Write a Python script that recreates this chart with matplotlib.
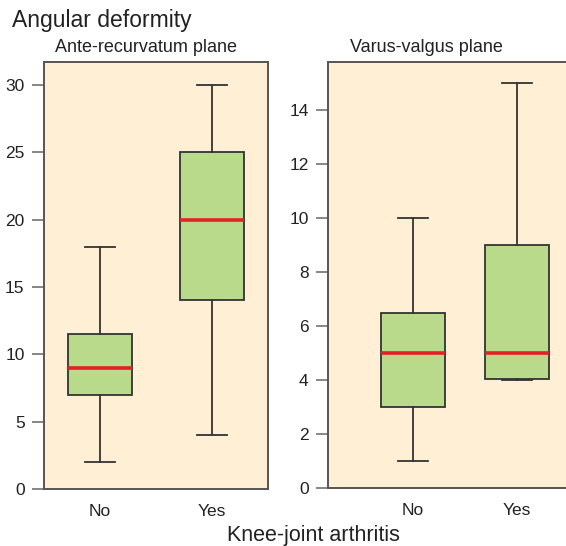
import matplotlib
matplotlib.use("Agg")
import matplotlib.pyplot as plt

plt.rcParams['font.family'] = ['Liberation Sans', 'DejaVu Sans']

categories = ["No", "Yes"]

# ante-recurvatum plane: whislo, q1, med, q3, whishi
ante_lo = [2, 4]
ante_q1 = [7, 14]
ante_med = [9, 20]
ante_q3 = [11.5, 25]
ante_hi = [18, 30]

# varus-valgus plane
varus_lo = [1, 4]
varus_q1 = [3, 4.05]
varus_med = [5, 5]
varus_q3 = [6.5, 9]
varus_hi = [10, 15]

bg = "#FEEFD5"
box_fill = "#B9D98B"
red = "#E42226"
dark = "#333333"


def make_stats(lo, q1, med, q3, hi):
    stats = []
    for i in range(len(lo)):
        stats.append({"whislo": lo[i], "q1": q1[i], "med": med[i],
                      "q3": q3[i], "whishi": hi[i], "fliers": []})
    return stats


def draw_panel(ax, stats, title, title_x, positions, width):
    ax.bxp(stats, positions=positions, widths=width, patch_artist=True,
           showfliers=False,
           boxprops=dict(facecolor=box_fill, edgecolor=dark, linewidth=1.3),
           medianprops=dict(color=red, linewidth=2.6),
           whiskerprops=dict(color=dark, linewidth=1.3),
           capprops=dict(color=dark, linewidth=1.3),
           capwidths=width * 0.47)
    ax.set_facecolor(bg)
    ax.set_xticks(positions)
    ax.set_xticklabels(categories, fontsize=12.5, color="#222222")
    ax.tick_params(axis="x", length=0, pad=11)
    ax.tick_params(axis="y", length=9, width=1.1, color="#666666",
                   labelsize=12.5, labelcolor="#222222", pad=5)
    for s in ax.spines.values():
        s.set_color("#555555")
        s.set_linewidth(1.4)
    ax.annotate(title, xy=(title_x, 1), xycoords="axes fraction",
                xytext=(0, 7), textcoords="offset points",
                ha="left", va="baseline", fontsize=13, color="#222222")


fig = plt.figure(figsize=(5.66, 5.46), dpi=100)

ax1 = fig.add_axes([44 / 566, 1 - 489 / 546, 224 / 566, 427 / 546])
draw_panel(ax1, make_stats(ante_lo, ante_q1, ante_med, ante_q3, ante_hi),
           "Ante-recurvatum plane", 11 / 224, [1, 2], 0.57)
ax1.set_xlim(0.5, 2.5)
ax1.set_ylim(0, 31.7)
ax1.set_yticks([0, 5, 10, 15, 20, 25, 30])

ax2 = fig.add_axes([328 / 566, 1 - 488 / 546, 245 / 566, 426 / 546])
draw_panel(ax2, make_stats(varus_lo, varus_q1, varus_med, varus_q3, varus_hi),
           "Varus-valgus plane", 22 / 245, [1, 2], 0.615)
ax2.set_xlim(0.18, 2.54)
ax2.set_ylim(0, 15.78)
ax2.set_yticks([0, 2, 4, 6, 8, 10, 12, 14])

fig.text(12 / 566, 1 - 20 / 546, "Angular deformity", fontsize=16.5,
         va="center", ha="left", color="#222222")
fig.text(313 / 566, 1 - 535 / 546, "Knee-joint arthritis", fontsize=15.5,
         va="center", ha="center", color="#222222")

fig.savefig("out.png", dpi=100)
